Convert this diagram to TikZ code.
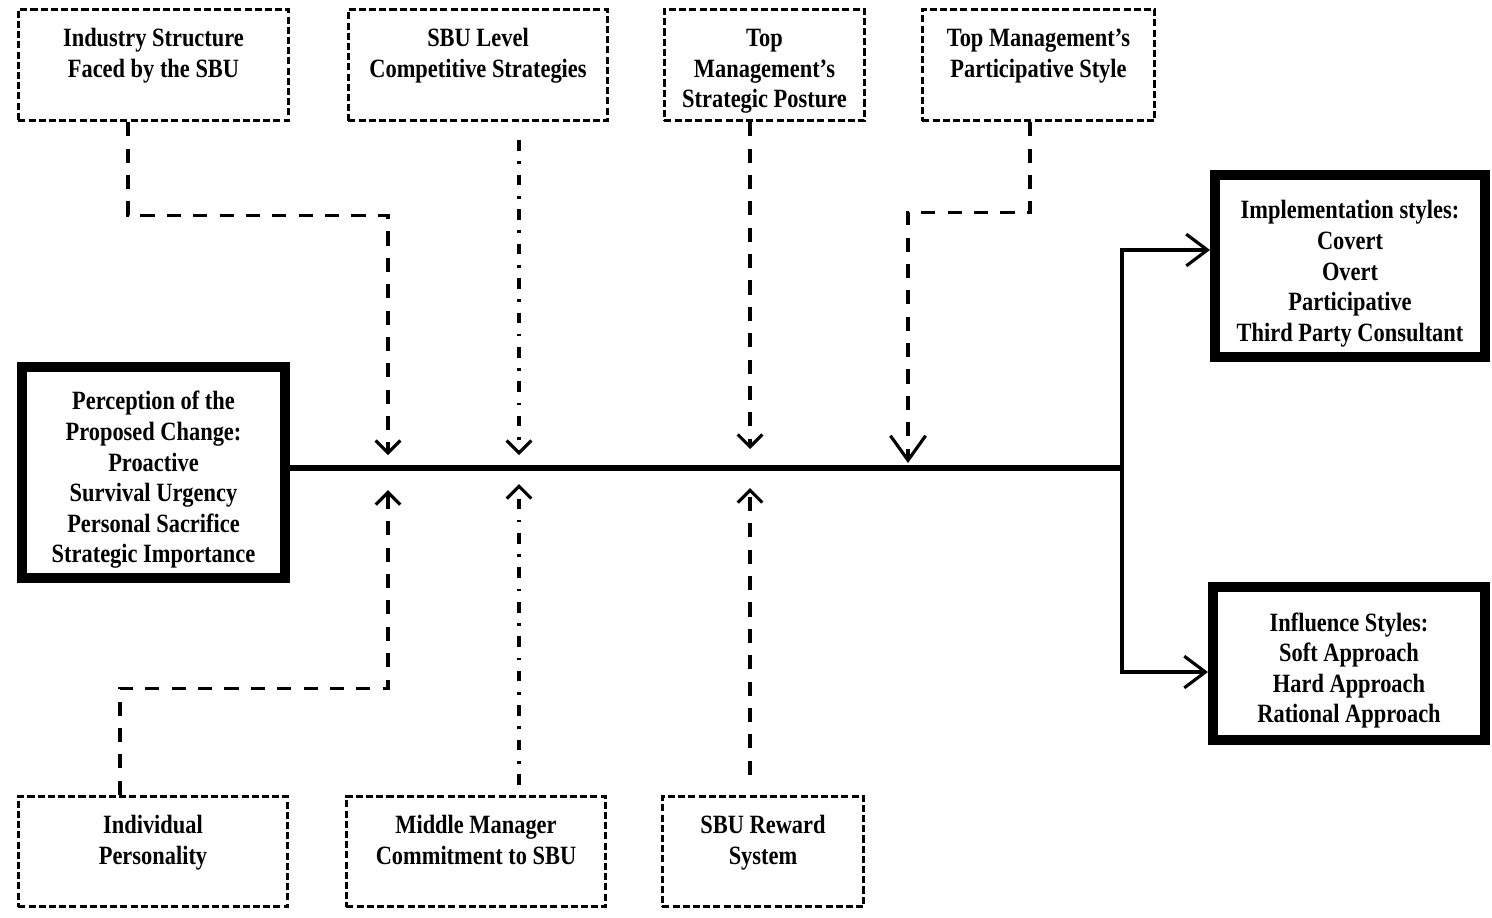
\documentclass[tikz,border=0pt]{standalone}
\usepackage{fontspec}
\setmainfont{Liberation Serif}[FakeStretch=0.85]
\usetikzlibrary{arrows.meta,calc,positioning}
\tikzset{
    x=0.01cm,y=-0.01cm,
    factor/.style={draw, line width=0.95pt, dash pattern=on 2pt off 0.9pt, inner sep=0pt},
    outcome/.style={draw, line width=2.8pt, inner sep=0pt},
    link/.style={line width=0.9pt, dash pattern=on 4pt off 3.5pt, -{Straight Barb[length=3.5pt,width=7pt]}},
    dotlink/.style={link, dash pattern=on 3pt off 3pt on 0.8pt off 3pt},
    flow/.style={line width=0.9pt, -{Straight Barb[length=6pt,width=9pt]}}
}
\newcommand{\toplines}[4][0.37cm]{\parbox[c][#3][t]{#2}{\centering\rule{0pt}{#1}#4}}

\begin{document}
\begin{tikzpicture}[font=\fontsize{7.5}{8.7}\selectfont\bfseries]
    \useasboundingbox (0,0) rectangle (1492,917);

    \node[factor] (ind) at (153.5,65) {\toplines{2.70cm}{1.11cm}{Industry Structure\\Faced by the SBU}};
    \node[factor] (sbu) at (478,65) {\toplines{2.59cm}{1.11cm}{SBU Level\\Competitive Strategies}};
    \node[factor] (post) at (764.5,65) {\toplines{2.00cm}{1.11cm}{Top\\Management's\\Strategic Posture}};
    \node[factor] (part) at (1038.5,65) {\toplines{2.32cm}{1.11cm}{Top Management's\\Participative Style}};

    \node[factor] (indiv) at (153,851.5) {\toplines{2.69cm}{1.10cm}{Individual\\Personality}};
    \node[factor] (mid) at (476,851.5) {\toplines{2.59cm}{1.10cm}{Middle Manager\\Commitment to SBU}};
    \node[factor] (rew) at (763,851.5) {\toplines{2.01cm}{1.10cm}{SBU Reward\\System}};

    \node[outcome] (perc) at (153.5,472.5) {\toplines[0.43cm]{2.63cm}{2.11cm}{Perception of the\\Proposed Change:\\Proactive\\Survival Urgency\\Personal Sacrifice\\Strategic Importance}};
    \node[outcome] (impl) at (1350,266) {\toplines[0.44cm]{2.70cm}{1.82cm}{Implementation styles:\\Covert\\Overt\\Participative\\Third Party Consultant}};
    \node[outcome] (infl) at (1349,663.5) {\toplines[0.44cm]{2.72cm}{1.53cm}{Influence Styles:\\Soft Approach\\Hard Approach\\Rational Approach}};

    \coordinate (m1) at (388,468);
    \coordinate (m2) at (519,468);
    \coordinate (m3) at (750,468);
    \coordinate (m4) at (908,468);
    \coordinate (split) at (1122,468);

    \draw[line width=1.5pt] (perc.east |- split) -- (split);
    \draw[flow] (split) |- ([yshift=0.16cm]impl.west);
    \draw[flow] (split) |- ([yshift=-0.085cm]infl.west);

    \draw[link, shorten >=0.13cm] ([xshift=-0.255cm]ind.south) -- ++(0,93) -| (m1);
    \draw[dotlink, shorten <=0.18cm, shorten >=0.13cm] (sbu.south -| m2) -- (m2);
    \draw[link, shorten >=0.19cm] (post.south -| m3) -- (m3);
    \draw[link, shorten >=0.05cm, -{Straight Barb[length=7pt,width=10pt]}] ([xshift=-0.085cm]part.south) -- ++(0,90) -| (m4);

    \draw[link, shorten >=0.22cm] ([xshift=-0.33cm]indiv.north) -- ++(0,-106.5) -| (m1);
    \draw[dotlink, shorten <=0.1cm, shorten >=0.16cm] (mid.north -| m2) -- (m2);
    \draw[link, shorten <=0.2cm, shorten >=0.2cm] (rew.north -| m3) -- (m3);
\end{tikzpicture}
\end{document}
